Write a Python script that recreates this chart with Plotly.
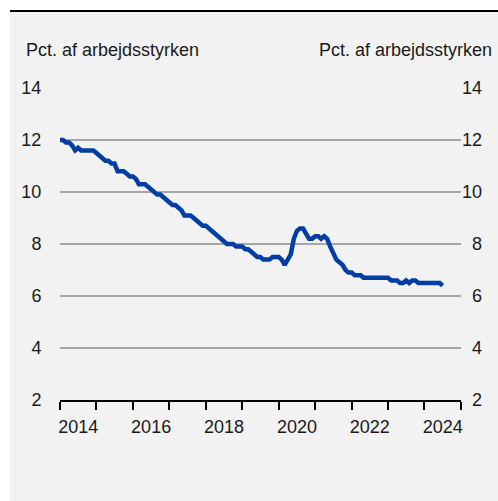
import pandas as pd
import plotly.graph_objects as go

# Monthly unemployment rate, pct. of labour force, Jan 2014 onwards
start_month = "2014-01-01"
unemployment = [
    12.0, 12.0, 11.9, 11.9, 11.8, 11.6, 11.7, 11.6, 11.6, 11.6, 11.6, 11.6,
    11.5, 11.4, 11.3, 11.2, 11.2, 11.1, 11.1, 10.8, 10.8, 10.8, 10.7, 10.6,
    10.6, 10.5, 10.3, 10.3, 10.3, 10.2, 10.1, 10.0, 9.9, 9.9, 9.8, 9.7,
    9.6, 9.5, 9.5, 9.4, 9.3, 9.1, 9.1, 9.1, 9.0, 8.9, 8.8, 8.7,
    8.7, 8.6, 8.5, 8.4, 8.3, 8.2, 8.1, 8.0, 8.0, 8.0, 7.9, 7.9,
    7.9, 7.8, 7.8, 7.7, 7.6, 7.5, 7.5, 7.4, 7.4, 7.4, 7.5, 7.5,
    7.5, 7.4, 7.2, 7.4, 7.6, 8.2, 8.5, 8.6, 8.6, 8.4, 8.2, 8.2,
    8.3, 8.3, 8.2, 8.3, 8.2, 7.9, 7.6, 7.4, 7.3, 7.2, 7.0, 6.9,
    6.9, 6.8, 6.8, 6.8, 6.7, 6.7, 6.7, 6.7, 6.7, 6.7, 6.7, 6.7,
    6.7, 6.6, 6.6, 6.6, 6.5, 6.5, 6.6, 6.5, 6.6, 6.6, 6.5, 6.5,
    6.5, 6.5, 6.5, 6.5, 6.5, 6.5, 6.4,
]
dates = pd.date_range(start_month, periods=len(unemployment), freq="MS")

y_ticks = [2, 4, 6, 8, 10, 12, 14]
year_labels = ["2014", "2016", "2018", "2020", "2022", "2024"]
year_bounds = [f"{y}-01-01" for y in range(2014, 2026)]
label_pos = [f"{y}-07-02" for y in year_labels]

# right-hand labels padded with a figure space so they line up on the right
right_tick_text = [f"{v:\u2007>2d}" for v in y_ticks]

axis_title = "Pct. af arbejdsstyrken"
font_family = "Liberation Sans, Arial, sans-serif"
text_color = "#1a1a1a"
font_size = 18

W, H = 498, 501
L, R, T, B = 60, 37, 88, 101
pw, ph = W - L - R, H - T - B


def px_x(px):
    return (px - L) / pw


def px_y(py):
    return (H - B - py) / ph


fig = go.Figure()
fig.add_trace(go.Scatter(
    x=dates, y=unemployment, mode="lines",
    line=dict(color="#003DA5", width=4.5),
    hoverinfo="x+y", showlegend=False,
))
# empty trace so the right-hand value axis is drawn
fig.add_trace(go.Scatter(
    x=[], y=[], yaxis="y2", mode="lines",
    hoverinfo="skip", showlegend=False,
))

fig.update_layout(
    width=W, height=H,
    margin=dict(l=L, r=R, t=T, b=B, pad=0, autoexpand=False),
    paper_bgcolor="white",
    plot_bgcolor="rgba(0,0,0,0)",
    font=dict(family=font_family, size=font_size, color=text_color),
    xaxis=dict(
        type="date", automargin=False,
        range=["2014-01-01", "2025-01-01"],
        tickmode="array", tickvals=label_pos, ticktext=year_labels,
        ticks="outside", ticklen=9, tickcolor="rgba(0,0,0,0)",
        showgrid=False, zeroline=False,
        showline=True, linecolor="black", linewidth=2,
        minor=dict(tickmode="array", tickvals=year_bounds, ticks="outside",
                   ticklen=8, tickwidth=2, tickcolor="black", showgrid=False),
    ),
    yaxis=dict(
        automargin=False,
        range=[2, 14], tickmode="array", tickvals=y_ticks,
        ticks="outside", ticklen=14, tickcolor="rgba(0,0,0,0)",
        showgrid=True, gridcolor="#a6a6a6", gridwidth=1.5,
        zeroline=False, showline=False,
    ),
    yaxis2=dict(
        automargin=False,
        range=[2, 14], tickmode="array", tickvals=y_ticks,
        ticktext=right_tick_text,
        overlaying="y", side="right", anchor="x",
        ticks="", showgrid=False, zeroline=False, showline=False,
    ),
    shapes=[
        dict(type="rect", xref="paper", yref="paper", layer="below",
             x0=px_x(10), x1=px_x(W + 2), y0=px_y(H + 2), y1=px_y(11),
             fillcolor="#f2f2f2", line=dict(width=0)),
        dict(type="line", xref="paper", yref="paper",
             x0=px_x(10), x1=px_x(W + 2), y0=px_y(11), y1=px_y(11),
             line=dict(color="black", width=2)),
    ],
    annotations=[
        dict(text=axis_title, xref="paper", yref="paper",
             x=px_x(24), y=px_y(50), xanchor="left", yanchor="middle",
             showarrow=False, font=dict(size=font_size, color=text_color)),
        dict(text=axis_title, xref="paper", yref="paper",
             x=px_x(494), y=px_y(50), xanchor="right", yanchor="middle",
             showarrow=False, font=dict(size=font_size, color=text_color)),
    ],
)

fig.write_html("out.html")
